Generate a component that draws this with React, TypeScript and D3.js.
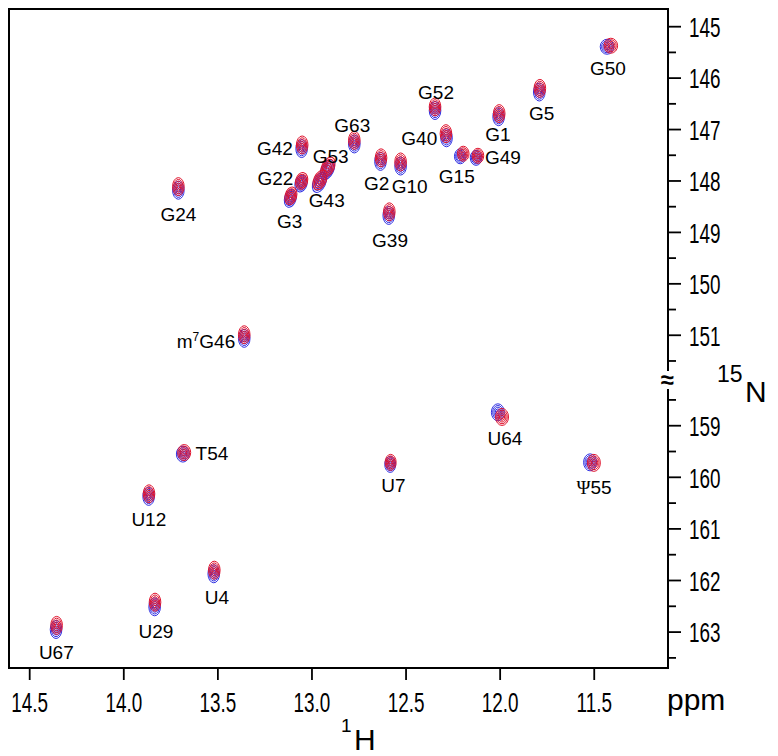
import React from "react";
import * as d3 from "d3";

// ---- data (ppm) ----
const peakLabels = ["G50","G5","G52","G1","G40","G42","G63","G15","G49","G2","G10","G53","G43","G22","G24","G3","G39","m7G46","U64","T54","Ψ55","U7","U12","U4","U29","U67"];
const redH =  [11.412,11.789,12.346,12.005,12.288,13.052,12.775,12.196,12.118,12.633,12.529,12.915,12.957,13.055,13.710,13.112,12.589,13.360,11.990,13.679,11.502,12.582,13.866,13.519,13.834,14.357];
const redN =  [145.37,146.20,146.56,146.69,147.08,147.30,147.21,147.47,147.51,147.55,147.63,147.73,147.98,148.00,148.11,148.29,148.60,150.99,158.83,159.52,159.72,159.71,160.32,161.80,162.42,162.87];
const blueH = [11.432,11.792,12.346,12.008,12.285,13.055,12.775,12.212,12.128,12.636,12.529,12.918,12.960,13.058,13.710,13.115,12.592,13.360,12.012,13.686,11.522,12.584,13.868,13.522,13.836,14.360];
const blueN = [145.39,146.27,146.63,146.75,147.16,147.37,147.28,147.52,147.55,147.62,147.71,147.78,148.03,148.05,148.18,148.34,148.67,151.06,158.74,159.55,159.71,159.75,160.37,161.87,162.51,162.95];

const xTicks = [14.5, 14.0, 13.5, 13.0, 12.5, 12.0, 11.5];
const yTicksTop = [145, 146, 147, 148, 149, 150, 151];
const yMinorTop = [145.5, 146.5, 147.5, 148.5, 149.5, 150.5, 151.5];
const yTicksBottom = [159, 160, 161, 162, 163];
const yMinorBottom = [158.5, 159.5, 160.5, 161.5, 162.5, 163.5];

// ---- layout ----
const L = 9, R = 668, T = 9, B = 668, BREAK = 380;
const x = d3.scaleLinear().domain([14.61, 11.108]).range([L, R]);
const y = d3.scaleLinear().domain([144.656, 151.87, 158.114, 163.696]).range([T, BREAK, BREAK, B]);

const FONT = "'Liberation Sans', Arial, sans-serif";
const RED = "#e0122c";
const BLUE = "#2f2fe2";

type Shape = { rx: number; ry: number; rot: number };
const defShape: Shape = { rx: 5.8, ry: 9, rot: 0 };
const shapes: Record<string, Partial<Shape>> = {
  G50: { rx: 6.8, ry: 7.5 },
  G53: { rx: 6.2, ry: 10.5, rot: 25 },
  G43: { rx: 6.2, ry: 10.5, rot: 25 },
  G22: { rx: 6, ry: 8.5, rot: 15 },
  G3: { rot: 15 },
  G15: { ry: 7.5 },
  G49: { ry: 7.5 },
  U64: { rx: 6.5, ry: 8.5 },
  "Ψ55": { rx: 6.5, ry: 8.5 },
  U7: { rx: 5.5, ry: 8 },
  T54: { rx: 6.5, ry: 8 },
};

// label offset from the peak (px), to text centre
const labelPos: Record<string, { dx: number; dy: number; anchor: string }> = {
  G50: { dx: -1, dy: 22, anchor: "middle" },
  G5: { dx: 2, dy: 23, anchor: "middle" },
  G52: { dx: 1, dy: -17, anchor: "middle" },
  G1: { dx: -1, dy: 19, anchor: "middle" },
  G40: { dx: -9, dy: 2, anchor: "end" },
  G42: { dx: -9, dy: 1, anchor: "end" },
  G63: { dx: -2, dy: -17, anchor: "middle" },
  G15: { dx: -5, dy: 21, anchor: "middle" },
  G49: { dx: 8, dy: 0, anchor: "start" },
  G2: { dx: -4, dy: 23, anchor: "middle" },
  G10: { dx: 9, dy: 22, anchor: "middle" },
  G53: { dx: 3, dy: -12, anchor: "middle" },
  G43: { dx: 7, dy: 19, anchor: "middle" },
  G22: { dx: -8, dy: -4, anchor: "end" },
  G24: { dx: 0, dy: 26, anchor: "middle" },
  G3: { dx: -1, dy: 24, anchor: "middle" },
  G39: { dx: 1, dy: 26, anchor: "middle" },
  m7G46: { dx: -9, dy: 4, anchor: "end" },
  U64: { dx: 5, dy: 23, anchor: "middle" },
  T54: { dx: 12, dy: 0, anchor: "start" },
  "Ψ55": { dx: 2, dy: 24, anchor: "middle" },
  U7: { dx: 3, dy: 22, anchor: "middle" },
  U12: { dx: 0, dy: 24, anchor: "middle" },
  U4: { dx: 3, dy: 25, anchor: "middle" },
  U29: { dx: 1, dy: 27, anchor: "middle" },
  U67: { dx: 0, dy: 25, anchor: "middle" },
};

const levels = [1, 0.8, 0.6, 0.4, 0.2];

function Contours({ cx, cy, s, color }: { cx: number; cy: number; s: Shape; color: string }) {
  return (
    <g transform={`translate(${cx},${cy}) rotate(${s.rot})`}>
      {levels.map((f, i) => (
        <ellipse key={i} cx={0} cy={0} rx={s.rx * f} ry={s.ry * f} fill="none" stroke={color} strokeWidth={1} />
      ))}
    </g>
  );
}

function Label({ name, px, py }: { name: string; px: number; py: number }) {
  const p = labelPos[name];
  const tx = px + p.dx;
  const ty = py + p.dy + 7;
  let content: React.ReactNode = name;
  if (name === "m7G46") {
    content = (
      <>
        <tspan>m</tspan>
        <tspan fontSize={12} dy={-7}>7</tspan>
        <tspan dy={7}>G46</tspan>
      </>
    );
  } else if (name === "Ψ55") {
    content = (
      <>
        <tspan fontFamily="'Liberation Serif', 'DejaVu Serif', serif">Ψ</tspan>
        <tspan>55</tspan>
      </>
    );
  }
  return (
    <text x={tx} y={ty} textAnchor={p.anchor as any} fontSize={19} fontFamily={FONT} fill="#000">
      {content}
    </text>
  );
}

export default function App() {
  const gap0 = 371, gap1 = 389;
  const framePath = `M${R},${gap1} L${R},${B} L${L},${B} L${L},${T} L${R},${T} L${R},${gap0}`;
  return (
    <svg width={778} height={756} style={{ position: "absolute", left: 0, top: 0, background: "#fff" }}>
      <rect x={0} y={0} width={778} height={756} fill="#fff" />
      {/* peaks */}
      {peakLabels.map((name, i) => {
        const s = { ...defShape, ...(shapes[name] || {}) } as Shape;
        return (
          <g key={name}>
            <Contours cx={x(blueH[i])} cy={y(blueN[i])} s={s} color={BLUE} />
            <Contours cx={x(redH[i])} cy={y(redN[i])} s={s} color={RED} />
          </g>
        );
      })}
      {/* labels */}
      {peakLabels.map((name, i) => {
        const px = (x(redH[i]) + x(blueH[i])) / 2;
        const py = (y(redN[i]) + y(blueN[i])) / 2;
        return <Label key={name} name={name} px={px} py={py} />;
      })}
      {/* frame */}
      <path d={framePath} fill="none" stroke="#000" strokeWidth={2} />
      {/* x ticks */}
      {xTicks.map((t) => (
        <g key={t}>
          <line x1={x(t)} x2={x(t)} y1={B} y2={B + 12} stroke="#000" strokeWidth={1.8} />
          <text transform={`translate(${x(t)},${711.5}) scale(0.7,1)`} textAnchor="middle" fontSize={27} fontFamily={FONT} fill="#000">
            {t.toFixed(1)}
          </text>
        </g>
      ))}
      {/* y ticks */}
      {[...yTicksTop, ...yTicksBottom].map((t) => (
        <g key={t}>
          <line x1={R} x2={R + 13} y1={y(t)} y2={y(t)} stroke="#000" strokeWidth={1.8} />
          <text transform={`translate(${689},${y(t) + 10.3}) scale(0.7,1)`} textAnchor="start" fontSize={27} fontFamily={FONT} fill="#000">
            {t}
          </text>
        </g>
      ))}
      {[...yMinorTop, ...yMinorBottom].map((t) => (
        <line key={t} x1={R} x2={R + 8} y1={y(t)} y2={y(t)} stroke="#000" strokeWidth={1.8} />
      ))}
      {/* axis break */}
      <text x={R - 1} y={BREAK + 8} textAnchor="middle" fontSize={24} fontWeight="bold" fontFamily={FONT} fill="#000">≈</text>
      {/* axis titles */}
      <text x={667} y={710} fontSize={30} fontFamily={FONT} fill="#000">ppm</text>
      <text x={341} y={732} fontSize={19} fontFamily={FONT} fill="#000">1</text>
      <text x={354} y={750} fontSize={30} fontFamily={FONT} fill="#000">H</text>
      <text x={717} y={382} fontSize={23} fontFamily={FONT} fill="#000">15</text>
      <text x={745} y={402} fontSize={30} fontFamily={FONT} fill="#000">N</text>
    </svg>
  );
}
